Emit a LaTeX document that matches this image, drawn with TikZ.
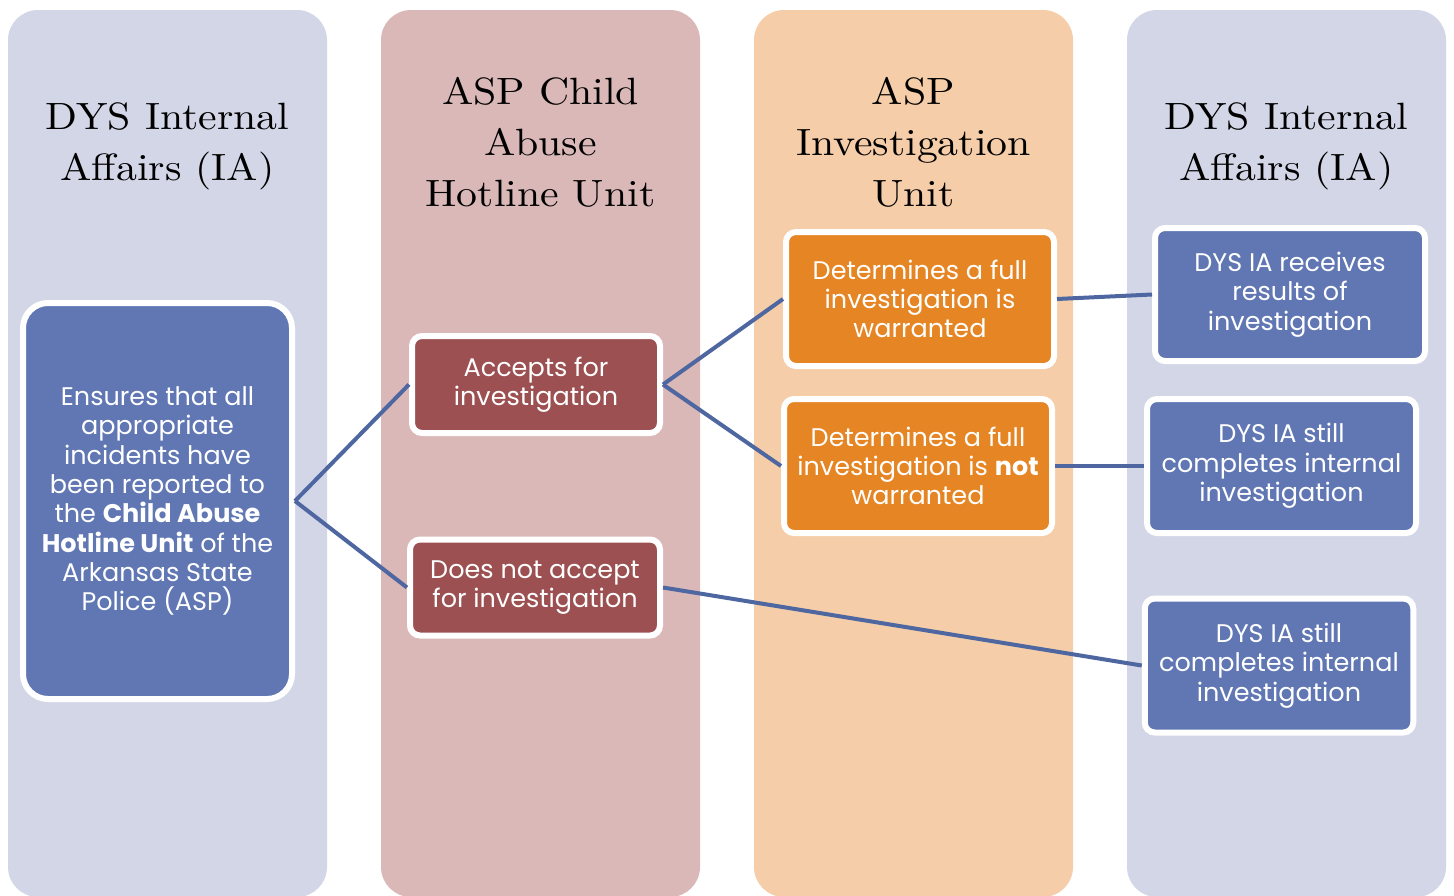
\documentclass[tikz,border=0pt]{standalone}
\usepackage{fontspec}
\setsansfont{Poppins}
\newfontfamily\titlefont{lmroman10-regular.otf}[FakeStretch=1.1]
\definecolor{colblue}{HTML}{D3D6E6}
\definecolor{colpink}{HTML}{DBB8B8}
\definecolor{colpeach}{HTML}{F5CDA8}
\definecolor{boxblue}{HTML}{6077B4}
\definecolor{boxred}{HTML}{9C5052}
\definecolor{boxorange}{HTML}{E68523}
\definecolor{linkblue}{HTML}{4E67A1}
\begin{document}
\begin{tikzpicture}[x=1pt,y=-1pt,
  column/.style={rounded corners=30pt},
  title/.style={align=center,font=\titlefont\fontsize{38}{51}\selectfont,text=black,inner sep=0pt},
  box/.style={draw=white,line width=6pt,text=white,align=center,inner sep=0pt,
    font=\sffamily\fontsize{25.5}{29.3}\selectfont,rounded corners=10pt},
  link/.style={draw=linkblue,line width=4pt}]
\useasboundingbox (0,0) rectangle (1454,895);
\clip (0,0) rectangle (1454,895);
% columns
\fill[colblue,column] (8,10) rectangle (327,897);
\fill[colpink,column] (381,10) rectangle (700,897);
\fill[colpeach,column] (754,10) rectangle (1073,897);
\fill[colblue,column] (1127,10) rectangle (1446,897);
% titles
\node[title] (t1) at (167.5,146) {DYS Internal\\Affairs (IA)};
\node[title] (t2) at (540.5,142) {ASP Child\\Abuse\\Hotline Unit};
\node[title] (t3) at (913.5,142) {ASP\\Investigation\\Unit};
\node[title] (t4) at (1286.5,146) {DYS Internal\\Affairs (IA)};
% boxes
\node[box,fill=boxblue,minimum width=269pt,minimum height=396pt,rounded corners=25pt] (ens) at (157.5,501)
  {Ensures that all\\appropriate\\incidents have\\been reported to\\the \textbf{Child Abuse}\\\textbf{Hotline Unit} of the\\Arkansas State\\Police (ASP)};
\node[box,fill=boxred,minimum width=248pt,minimum height=97pt] (acc) at (536,384.5)
  {Accepts for\\investigation};
\node[box,fill=boxred,minimum width=250pt,minimum height=96pt] (dna) at (535,587.5)
  {Does not accept\\for investigation};
\node[box,fill=boxorange,minimum width=268pt,minimum height=134pt] (ow) at (920,299)
  {Determines a full\\investigation is\\warranted};
\node[box,fill=boxorange,minimum width=268pt,minimum height=134pt] (onw) at (918,466)
  {Determines a full\\investigation is \textbf{not}\\warranted};
\node[box,fill=boxblue,minimum width=270pt,minimum height=133pt] (r1) at (1290,294.5)
  {DYS IA receives\\results of\\investigation};
\node[box,fill=boxblue,minimum width=269pt,minimum height=134pt] (r2) at (1281.5,466)
  {DYS IA still\\completes internal\\investigation};
\node[box,fill=boxblue,minimum width=268.5pt,minimum height=134pt] (r3) at (1279,665.5)
  {DYS IA still\\completes internal\\investigation};
% connectors
\draw[link] (ens.east) -- (acc.west);
\draw[link] (ens.east) -- (dna.west);
\draw[link] (acc.east) -- (ow.west);
\draw[link] (acc.east) -- (onw.west);
\draw[link] (ow.east) -- (r1.west);
\draw[link] (onw.east) -- (r2.west);
\draw[link] (dna.east) -- (r3.west);
\end{tikzpicture}
\end{document}
